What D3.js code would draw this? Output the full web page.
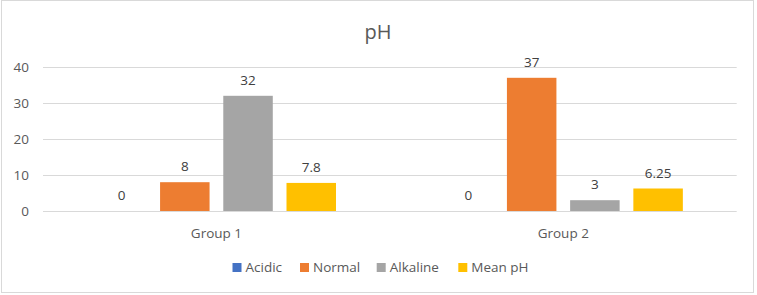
<!DOCTYPE html>
<html><head><meta charset="utf-8">
<script src="https://cdn.jsdelivr.net/npm/d3@7"></script>
<style>body{margin:0;background:#fff;} text{font-family:"Open Sans","Liberation Sans",sans-serif;}</style>
</head><body>
<svg id="c" width="757" height="295"></svg>
<script>
const groups = ["Group 1", "Group 2"];
const seriesNames = ["Acidic", "Normal", "Alkaline", "Mean pH"];
const acidic = [0, 0];
const normal = [8, 37];
const alkaline = [32, 3];
const meanPH = [7.8, 6.25];
const yTicks = [0, 10, 20, 30, 40];
const colors = ["#4472C4", "#ED7D31", "#A5A5A5", "#FFC000"];

(function(){
const seriesValues = [acidic, normal, alkaline, meanPH];
const svg = d3.select("#c");
svg.append("rect").attr("x",1.5).attr("y",0.5).attr("width",752).attr("height",292)
  .attr("fill","#fff").attr("stroke","#d9d9d9");

const pLeft = 43, pRight = 736.7, pTop = 67, pBottom = 211;
const y = d3.scaleLinear().domain([0,40]).range([pBottom, pTop]);
const x0 = d3.scaleBand().domain(groups).range([pLeft, pRight]);
const x1 = d3.scaleBand().domain(seriesNames).range([0, x0.bandwidth()]).paddingInner(0.217).paddingOuter(0.852);
const color = d3.scaleOrdinal().domain(seriesNames).range(colors);

svg.append("g").selectAll("line").data(yTicks).join("line")
  .attr("x1",pLeft).attr("x2",pRight).attr("y1",d=>Math.round(y(d))+0.5).attr("y2",d=>Math.round(y(d))+0.5)
  .attr("stroke","#d9d9d9").attr("stroke-width",1);

svg.append("g").selectAll("text").data(yTicks).join("text")
  .attr("x",29).attr("y",d=>y(d)).attr("dy","0.35em").attr("text-anchor","end")
  .attr("font-size",13.5).attr("fill","#595959").text(d=>d);

svg.append("text").attr("x",378).attr("y",39).attr("text-anchor","middle")
  .attr("font-size",20).attr("fill","#595959").text("pH");

const data = [];
groups.forEach((g,gi)=>seriesNames.forEach((s,si)=>data.push({g,s,v:seriesValues[si][gi]})));
const bars = svg.append("g");
bars.selectAll("rect").data(data.filter(d=>d.v>0)).join("rect")
  .attr("x",d=>x0(d.g)+x1(d.s)).attr("width",x1.bandwidth())
  .attr("y",d=>y(d.v)).attr("height",d=>y(0)-y(d.v))
  .attr("fill",d=>color(d.s));
bars.selectAll("text").data(data).join("text")
  .attr("x",d=>x0(d.g)+x1(d.s)+x1.bandwidth()/2).attr("y",d=>y(d.v)-11)
  .attr("text-anchor","middle").attr("font-size",13.5).attr("fill","#404040").text(d=>d.v);

svg.append("g").selectAll("text").data(groups).join("text")
  .attr("x",d=>x0(d)+x0.bandwidth()/2).attr("y",238).attr("text-anchor","middle")
  .attr("font-size",13.5).attr("fill","#595959").text(d=>d);

const legX = [232.5, 300, 376.7, 458.3];
const leg = svg.append("g").selectAll("g").data(seriesNames).join("g")
  .attr("transform",(d,i)=>`translate(${legX[i]},263)`);
leg.append("rect").attr("width",9).attr("height",9).attr("fill",d=>color(d));
leg.append("text").attr("x",13).attr("y",4.5).attr("dy","0.35em").attr("font-size",13.5)
  .attr("fill","#595959").text(d=>d);
})();
</script>
</body></html>
